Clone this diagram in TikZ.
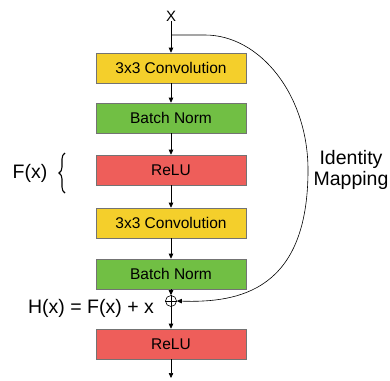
\documentclass[tikz,border=0pt]{standalone}
\usepackage{fontspec}
\setmainfont{Liberation Sans}
\usetikzlibrary{arrows.meta,decorations.pathreplacing}
\definecolor{convy}{HTML}{F4CF2B}
\definecolor{bngreen}{HTML}{71BF44}
\definecolor{relured}{HTML}{EE5E5A}
\begin{document}
\begin{tikzpicture}[x=1pt,y=-1pt,
  layer/.style={draw=black!55, line width=0.6pt, minimum width=150pt, minimum height=30pt,
    inner sep=0pt, font=\fontsize{15.5}{17}\selectfont},
  flow/.style={-{Triangle[length=5pt,width=4.5pt]}, line width=0.6pt},
  lbl/.style={font=\fontsize{19.5}{22}\selectfont, inner sep=0pt}]
\useasboundingbox (0,0) rectangle (390,380);
\node[inner sep=0pt, font=\fontsize{15}{16}\selectfont] (x) at (171,16) {X};
\node[layer, fill=convy] (c1) at (171,68) {3x3 Convolution};
\node[layer, fill=bngreen] (b1) at (171,118) {Batch Norm};
\node[layer, fill=relured] (r1) at (171,170) {ReLU};
\node[layer, fill=convy] (c2) at (171,223) {3x3 Convolution};
\node[layer, fill=bngreen] (b2) at (171,274) {Batch Norm};
\node[draw, circle, line width=0.6pt, minimum size=11pt, inner sep=0pt] (add) at (171,301) {};
\draw[line width=0.6pt] (add.north) -- (add.south) (add.west) -- (add.east);
\node[layer, fill=relured] (r2) at (171,344) {ReLU};
\coordinate (out) at (171,378);
\coordinate (split) at (171,35);

\draw[flow] (x.south) -- (c1.north);
\draw[flow] (c1) -- (b1);
\draw[flow] (b1) -- (r1);
\draw[flow] (r1) -- (c2);
\draw[flow] (c2) -- (b2);
\draw[flow] (b2) -- (add);
\draw[flow] (add) -- (r2);
\draw[flow] (r2) -- (out);
% identity shortcut around the residual branch
\draw[flow] (split) -- (205,35) .. controls (260,35) and (308,95) .. (308,170)
  .. controls (308,290) and (240,303) .. (add.east);

\node[lbl, align=center] (id) at (351,170) {Identity\\[-1pt]Mapping};
\node[lbl] (fx) at (30,173) {F(x)};
% brace grouping the residual branch label
\coordinate (brtop) at (65,153);
\coordinate (brbot) at (65,193);
\draw[line width=1.1pt, decorate, decoration={brace, amplitude=6pt, raise=0pt}] (brbot) -- (brtop);
\node[lbl] (hx) at (91,308) {H(x) = F(x) + x};
\end{tikzpicture}
\end{document}
